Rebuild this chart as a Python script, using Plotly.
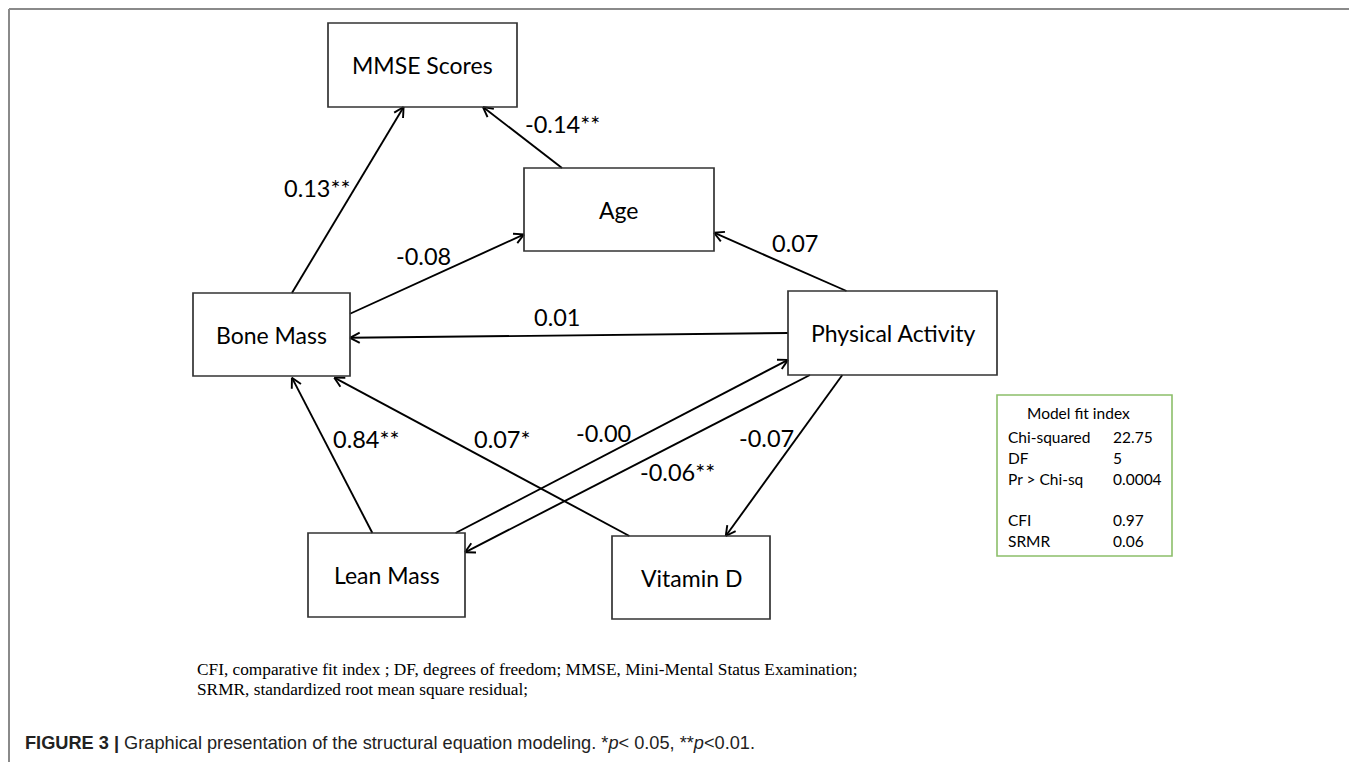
import numpy as np
import plotly.graph_objects as go

# ---------------- data ----------------
node_names = ["MMSE Scores", "Age", "Bone Mass", "Physical Activity", "Lean Mass", "Vitamin D"]

edge_from = ["Bone Mass", "Age", "Bone Mass", "Physical Activity", "Physical Activity",
             "Lean Mass", "Vitamin D", "Lean Mass", "Physical Activity", "Physical Activity"]
edge_to = ["MMSE Scores", "MMSE Scores", "Age", "Bone Mass", "Age",
           "Bone Mass", "Bone Mass", "Physical Activity", "Lean Mass", "Vitamin D"]
edge_coef = ["0.13**", "-0.14**", "-0.08", "0.01", "0.07",
             "0.84**", "0.07*", "-0.00", "-0.06**", "-0.07"]

fit_title = "Model fit index"
fit_labels = ["Chi-squared", "DF", "Pr > Chi-sq", "", "CFI", "SRMR"]
fit_values = ["22.75", "5", "0.0004", "", "0.97", "0.06"]

footnote_lines = [
    "CFI, comparative fit index ; DF, degrees of freedom; MMSE, Mini-Mental Status Examination;",
    "SRMR, standardized root mean square residual;",
]
caption_bold = "FIGURE 3 |"
caption_text = " Graphical presentation of the structural equation modeling. *<i>p</i>< 0.05, **<i>p</i><0.01."

# ---------------- layout (pixel positions in the page) ----------------
W, H = 1357, 762
OFF = 8  # page body margin in the browser
# box: x0, x1, y0, y1
node_box = {
    "MMSE Scores": (328, 517, 23, 107),
    "Age": (524, 714, 168, 251),
    "Bone Mass": (193, 350, 293, 376),
    "Physical Activity": (788, 997, 291, 375),
    "Lean Mass": (308, 465, 533, 617),
    "Vitamin D": (612, 770, 536, 619),
}
# anchor (fx, fy) fractions on the box for tail and head of each edge
edge_tail_anchor = [(0.63, 0), (0.20, 0), (1, 0.25), (0, 0.50), (0.28, 0),
                    (0.41, 0), (0.11, 0), (0.94, 0), (0.105, 1), (0.26, 1)]
edge_head_anchor = [(0.40, 1), (0.82, 1), (0, 0.80), (1, 0.54), (1, 0.78),
                    (0.63, 1.02), (0.90, 1.02), (0, 0.82), (1, 0.23), (0.72, 0)]
label_pos = [(317, 188), (562, 124), (423, 256), (557, 317), (795, 243),
             (366, 439), (502, 439), (603, 433), (677, 472), (766, 438)]

NODE_FONT = dict(family="Lato, Open Sans, sans-serif", size=23, color="black")
COEF_FONT = dict(family="Lato, Open Sans, sans-serif", size=23.5, color="black")
FIT_FONT = dict(family="Lato, Open Sans, sans-serif", size=15.5, color="black")


def anchor(name, f):
    x0, x1, y0, y1 = node_box[name]
    return np.array([x0 + f[0] * (x1 - x0), y0 + f[1] * (y1 - y0)])


ex, ey = [], []
wing = 11.0
half = np.deg2rad(28)
for a, b, ta, ha in zip(edge_from, edge_to, edge_tail_anchor, edge_head_anchor):
    t = anchor(a, ta)
    h = anchor(b, ha)
    ex += [t[0], h[0], None]
    ey += [t[1], h[1], None]
    d = (t - h) / np.linalg.norm(t - h)
    for s in (half, -half):
        rot = np.array([[np.cos(s), -np.sin(s)], [np.sin(s), np.cos(s)]])
        w = h + wing * rot @ d
        ex += [h[0], w[0], None]
        ey += [h[1], w[1], None]

fig = go.Figure()
fig.add_trace(go.Scatter(x=ex, y=ey, mode="lines",
                         line=dict(color="black", width=1.9),
                         hoverinfo="skip", showlegend=False))

shapes = []
annotations = []
for n in node_names:
    x0, x1, y0, y1 = node_box[n]
    shapes.append(dict(type="rect", xref="x", yref="y", x0=x0, x1=x1, y0=y0, y1=y1,
                       line=dict(color="#333333", width=1.7), fillcolor="rgba(0,0,0,0)"))
    annotations.append(dict(x=(x0 + x1) / 2, y=(y0 + y1) / 2, xref="x", yref="y",
                            text=n, showarrow=False, font=NODE_FONT))

for c, (lx, ly) in zip(edge_coef, label_pos):
    annotations.append(dict(x=lx, y=ly, xref="x", yref="y", text=c, showarrow=False,
                            font=COEF_FONT))

# model fit box
shapes.append(dict(type="rect", xref="x", yref="y", x0=997, x1=1172, y0=395, y1=556,
                   line=dict(color="#8CBF6A", width=1.6)))
annotations.append(dict(x=1078, y=413, xref="x", yref="y", text=fit_title, showarrow=False,
                        font=FIT_FONT))
row_y = [437, 458, 479, 500, 520, 541]
for lab, val, ry in zip(fit_labels, fit_values, row_y):
    if lab:
        annotations.append(dict(x=1006, y=ry, xref="x", yref="y", text=lab, showarrow=False,
                                xanchor="left", font=FIT_FONT))
    if val:
        annotations.append(dict(x=1111, y=ry, xref="x", yref="y", text=val, showarrow=False,
                                xanchor="left", font=FIT_FONT))

# footnote
for i, line in enumerate(footnote_lines):
    annotations.append(dict(x=195, y=669 + 20 * i, xref="x", yref="y", text=line, showarrow=False,
                            xanchor="left",
                            font=dict(family="Liberation Serif, Times New Roman, serif",
                                      size=17.3, color="black")))

# caption
annotations.append(dict(x=23, y=743, xref="x", yref="y",
                        text="<b>" + caption_bold + "</b>" + caption_text,
                        showarrow=False, xanchor="left",
                        font=dict(family="Liberation Sans, Arial, Helvetica, sans-serif",
                                  size=18.2, color="#222222")))

# outer frame (left, top, right)
for (x0, y0, x1, y1) in [(9, 9, 9, H + 20), (9, 9, 1355, 9), (1355, 9, 1355, H + 20)]:
    shapes.append(dict(type="line", xref="x", yref="y", x0=x0, y0=y0, x1=x1, y1=y1,
                       line=dict(color="#8a8a8a", width=2)))

fig.update_layout(
    width=W, height=H, autosize=False,
    margin=dict(l=0, r=0, t=0, b=0),
    paper_bgcolor="white", plot_bgcolor="white",
    xaxis=dict(range=[OFF, OFF + W], visible=False, fixedrange=True),
    yaxis=dict(range=[OFF + H, OFF], visible=False, fixedrange=True),
    shapes=shapes, annotations=annotations,
)
fig.write_html("out.html")
